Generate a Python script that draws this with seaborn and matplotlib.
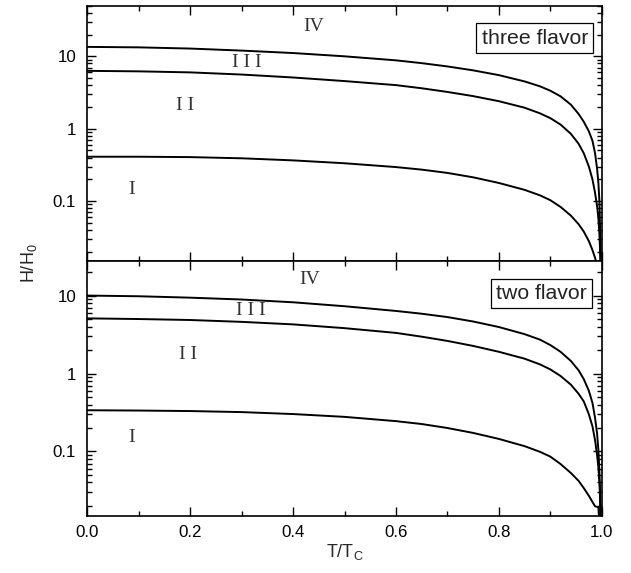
import numpy as np
import pandas as pd
import matplotlib
matplotlib.use("Agg")
import matplotlib.pyplot as plt
import seaborn as sns
from matplotlib.ticker import (LogLocator, FixedLocator, MultipleLocator,
                               NullFormatter, FormatStrFormatter)

# ---- data ----
T_grid = [0.0, 0.1, 0.2, 0.3, 0.4, 0.5, 0.6, 0.65, 0.7, 0.75, 0.8, 0.85, 0.88, 0.9,
          0.92, 0.94, 0.955, 0.965, 0.975, 0.982, 0.987, 0.991, 0.9935, 0.9955,
          0.9967, 0.998, 1.0]

three_upper = [13.5, 13.3, 12.8, 12.0, 11.1, 10.0, 8.8, 8.05, 7.25, 6.4, 5.5, 4.5, 3.85, 3.35,
               2.8, 2.15, 1.6, 1.25, 0.92, 0.68, 0.46, 0.28, 0.18, 0.10, 0.045, 0.015, 0.001]
three_middle = [6.3, 6.2, 6.0, 5.6, 5.1, 4.55, 4.0, 3.62, 3.22, 2.82, 2.4, 1.95, 1.63, 1.4,
                1.14, 0.85, 0.62, 0.46, 0.3, 0.2, 0.13, 0.085, 0.058, 0.035, 0.022, 0.01, 0.001]
three_lower = [0.41, 0.41, 0.405, 0.39, 0.365, 0.333, 0.295, 0.272, 0.245, 0.213, 0.178, 0.143,
               0.12, 0.103, 0.083, 0.063, 0.048, 0.038, 0.028, 0.021, 0.0165, 0.013, 0.008,
               0.005, 0.003, 0.002, 0.001]

two_upper = [10.0, 9.8, 9.4, 8.9, 8.2, 7.3, 6.35, 5.85, 5.3, 4.65, 3.95, 3.2, 2.72, 2.32,
             1.9, 1.45, 1.1, 0.85, 0.6, 0.42, 0.27, 0.17, 0.105, 0.055, 0.032, 0.012, 0.001]
two_middle = [5.1, 5.0, 4.86, 4.6, 4.27, 3.82, 3.32, 2.97, 2.62, 2.26, 1.9, 1.55, 1.31, 1.13,
              0.93, 0.72, 0.55, 0.44, 0.3, 0.21, 0.14, 0.09, 0.063, 0.04, 0.026, 0.012, 0.001]
two_lower = [0.338, 0.335, 0.33, 0.32, 0.302, 0.278, 0.245, 0.225, 0.2, 0.173, 0.145, 0.117,
             0.099, 0.086, 0.069, 0.053, 0.042, 0.034, 0.027, 0.0225, 0.0198, 0.0195, 0.0192,
             0.012, 0.005, 0.002, 0.001]

region_labels = ["IV", "I I I", "I I", "I"]
three_label_T = [0.44, 0.31, 0.19, 0.086]
three_label_H = [26.0, 8.1, 2.08, 0.146]
two_label_T = [0.432, 0.317, 0.195, 0.086]
two_label_H = [15.9, 6.4, 1.76, 0.153]

panel_names = ["three flavor", "two flavor"]
ytick_vals = [0.1, 1, 10]
ytick_text = ["0.1", "1", "10"]


def make_df(upper, middle, lower):
    frames = []
    for name, vals in (("upper", upper), ("middle", middle), ("lower", lower)):
        frames.append(pd.DataFrame({"T": T_grid, "H": vals, "curve": name}))
    return pd.concat(frames, ignore_index=True)


sns.set_style("ticks")
plt.rcParams['font.family'] = ['Liberation Sans', 'DejaVu Sans']
plt.rcParams['mathtext.default'] = 'regular'

fig = plt.figure(figsize=(6.31, 5.73), dpi=100)
ax1 = fig.add_axes([0.1384, 0.545, 0.8152, 0.445])
ax2 = fig.add_axes([0.1384, 0.100, 0.8152, 0.445])

panels = [
    (ax1, make_df(three_upper, three_middle, three_lower), (0.015, 50), three_label_T, three_label_H, panel_names[0], (0.87, 0.873)),
    (ax2, make_df(two_upper, two_middle, two_lower), (0.015, 28), two_label_T, two_label_H, panel_names[1], (0.883, 0.872)),
]

for ax, df, ylim, lt, lh, pname, bpos in panels:
    sns.lineplot(data=df, x="T", y="H", units="curve", estimator=None, sort=False,
                 color="black", linewidth=1.4, ax=ax, legend=False)
    ax.set_yscale("log")
    ax.set_xlim(0, 1)
    ax.set_ylim(*ylim)
    ax.set_xlabel("")
    ax.set_ylabel("")
    ax.yaxis.set_major_locator(FixedLocator(ytick_vals))
    ax.set_yticklabels(ytick_text)
    ax.yaxis.set_minor_locator(LogLocator(base=10, subs=np.arange(2, 10), numticks=20))
    ax.yaxis.set_minor_formatter(NullFormatter())
    ax.xaxis.set_major_locator(MultipleLocator(0.2))
    ax.xaxis.set_minor_locator(MultipleLocator(0.1))
    ax.xaxis.set_major_formatter(FormatStrFormatter("%.1f"))
    ax.tick_params(which="both", direction="in", top=True, right=True, width=1.0, colors="black")
    ax.tick_params(which="major", length=6.5, labelsize=12.2)
    ax.tick_params(which="minor", length=3.5)
    ax.tick_params(axis="y", pad=8)
    ax.tick_params(axis="x", pad=7)
    for s in ax.spines.values():
        s.set_linewidth(1.2)
        s.set_color("black")
    for txt, x, y in zip(region_labels, lt, lh):
        ax.text(x, y, txt, ha="center", va="center", fontsize=14,
                family=["Liberation Serif", "DejaVu Serif"], color="#333333")
    ax.text(bpos[0], bpos[1], pname, transform=ax.transAxes, ha="center", va="center",
            fontsize=15.3, color="#222222",
            bbox=dict(boxstyle="square,pad=0.25", fc="white", ec="black", lw=0.9))

ax1.tick_params(axis="x", labelbottom=False)

fig.text(0.046, 0.541, "H/H$_0$", rotation=90, ha="center", va="center", fontsize=13)
fig.text(0.547, 0.037, "T/T$_C$", ha="center", va="center", fontsize=13)

fig.savefig("out.png", dpi=100)
